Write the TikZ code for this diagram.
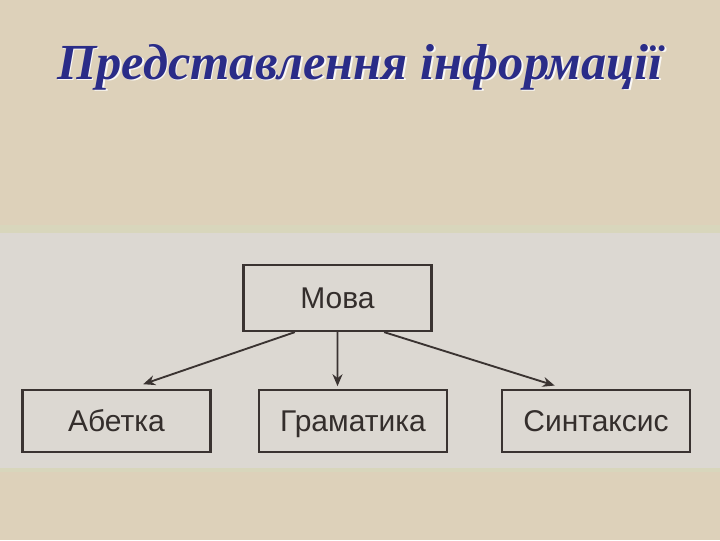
\documentclass[tikz,border=0pt]{standalone}
\usepackage{fontspec}
\setmainfont{Liberation Sans}
\newfontfamily\titlefont{Liberation Serif}
\usetikzlibrary{arrows.meta,calc}
\definecolor{bgbeige}{HTML}{DDD1BA}
\definecolor{scangray}{HTML}{DCD8D2}
\definecolor{stripe}{HTML}{D8D6BC}
\definecolor{titleblue}{HTML}{2A2C88}
\definecolor{ink}{HTML}{3A3331}
\tikzset{
  box/.style={draw=ink, line width=1.7pt, minimum width=141pt, minimum height=46.5pt,
    inner sep=0pt, font=\fontsize{22.5}{26}\selectfont, text=ink!90!black,
    text height=16.1pt, text depth=0pt},
  arr/.style={draw=ink, line width=1.4pt, -{Stealth[length=9pt,width=7.5pt]}},
}
\begin{document}
\begin{tikzpicture}[x=0.75pt,y=-0.75pt]
  \useasboundingbox (0,0) rectangle (720,540);
  \fill[bgbeige] (0,0) rectangle (720,540);
  \fill[stripe] (0,225) rectangle (720,233);
  \fill[scangray] (0,233) rectangle (720,468);
  \fill[stripe] (0,468) rectangle (720,472);
  % title
  \node[text=white!85!bgbeige] (titleshadow) at (361.5,68.5)
    {\resizebox{454pt}{!}{\titlefont\bfseries\itshape Представлення інформації}};
  \node[text=titleblue] (title) at (360,67)
    {\resizebox{454pt}{!}{\titlefont\bfseries\itshape Представлення інформації}};
  % boxes
  \node[box, minimum height=49.5pt] (mova) at (337.5,298) {Мова};
  \node[box] (abetka) at (116.5,421) {Абетка};
  \node[box] (gramatyka) at (353,421) {Граматика};
  \node[box] (syntaksys) at (596,421) {Синтаксис};
  % connectors
  \draw[arr] ([xshift=-32pt]mova.south) -- ([xshift=20pt,yshift=3.5pt]abetka.north);
  \draw[arr] (mova.south) -- ([xshift=-11.6pt,yshift=2pt]gramatyka.north);
  \draw[arr] ([xshift=35pt]mova.south) -- ([xshift=-31pt,yshift=2.5pt]syntaksys.north);
\end{tikzpicture}
\end{document}
